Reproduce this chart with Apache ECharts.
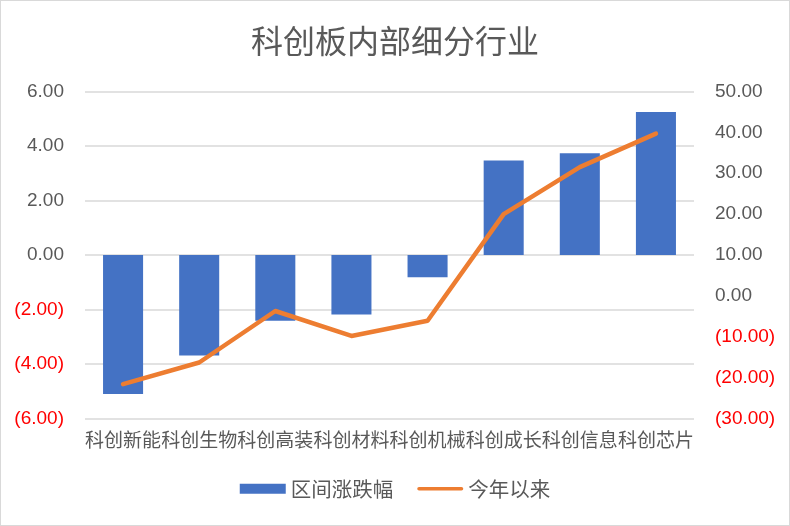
<!DOCTYPE html>
<html><head><meta charset="utf-8">
<script src="https://cdn.jsdelivr.net/npm/echarts@6/dist/echarts.min.js"></script>
<style>
html,body{margin:0;padding:0;background:#fff;}
#c{width:788px;height:524px;border:1px solid #d9d9d9;}
</style></head>
<body><div id="c"></div>
<script>
const categories = ['科创新能','科创生物','科创高装','科创材料','科创机械','科创成长','科创信息','科创芯片'];
const rangeChange = [-5.10,-3.69,-2.41,-2.18,-0.82,3.47,3.73,5.25];
const ytdChange = [-21.6,-16.3,-3.7,-9.8,-6.1,20.0,31.5,39.7];
const seriesNames = ['区间涨跌幅','今年以来'];
const titleText = '科创板内部细分行业';

const fmt = v => v < 0 ? '{neg|(' + Math.abs(v).toFixed(2) + ')}' : '{pos|' + v.toFixed(2) + '}';
const labelStyle = {
  fontFamily: 'Liberation Sans', fontSize: 19,
  formatter: fmt,
  rich: { neg: {color:'#ff0000', fontSize:19, fontFamily:'Liberation Sans'}, pos: {color:'#595959', fontSize:19, fontFamily:'Liberation Sans'} }
};
const chart = echarts.init(document.getElementById('c'));
chart.setOption({
  animation:false,
  backgroundColor:'#fff',
  title:{text:titleText,left:'center',top:19,textStyle:{fontFamily:'Noto Sans CJK SC',fontSize:32,fontWeight:'normal',color:'#595959'}},
  grid:{left:84,right:95,top:90.5,bottom:106.5},
  legend:{bottom:21,left:'center',itemWidth:46,itemHeight:10,itemGap:24,
    textStyle:{fontFamily:'Noto Sans CJK SC',fontSize:20.5,color:'#595959'},
    data:[{name:seriesNames[0],icon:'rect'},
          {name:seriesNames[1],icon:'path://M0,0 M46,10 M1,3.2 L45,3.2 A1.8,1.8 0 0 1 45,6.8 L1,6.8 A1.8,1.8 0 0 1 1,3.2 Z',itemStyle:{color:'#ed7d31'}}]},
  xAxis:{type:'category',data:categories,
    axisLine:{show:false,onZero:false},axisTick:{show:false},
    axisLabel:{interval:0,margin:12,fontFamily:'Noto Sans CJK SC',fontSize:19,color:'#595959'}},
  yAxis:[
    {type:'value',min:-6,max:6,interval:2,position:'left',
     axisLine:{show:false},axisTick:{show:false},
     splitLine:{lineStyle:{color:'#d9d9d9',width:1.5}},
     axisLabel:Object.assign({margin:21},labelStyle)},
    {type:'value',min:-30,max:50,interval:10,position:'right',
     axisLine:{show:false},axisTick:{show:false},splitLine:{show:false},
     axisLabel:Object.assign({margin:21},labelStyle)}
  ],
  series:[
    {name:seriesNames[0],type:'bar',data:rangeChange,yAxisIndex:0,barWidth:'52.6%',
     itemStyle:{color:'#4472c4'}},
    {name:seriesNames[1],type:'line',data:ytdChange,yAxisIndex:1,symbol:'none',
     lineStyle:{color:'#ed7d31',width:4.5,cap:'round',join:'round'},itemStyle:{color:'#ed7d31'}}
  ]
});
</script></body></html>
